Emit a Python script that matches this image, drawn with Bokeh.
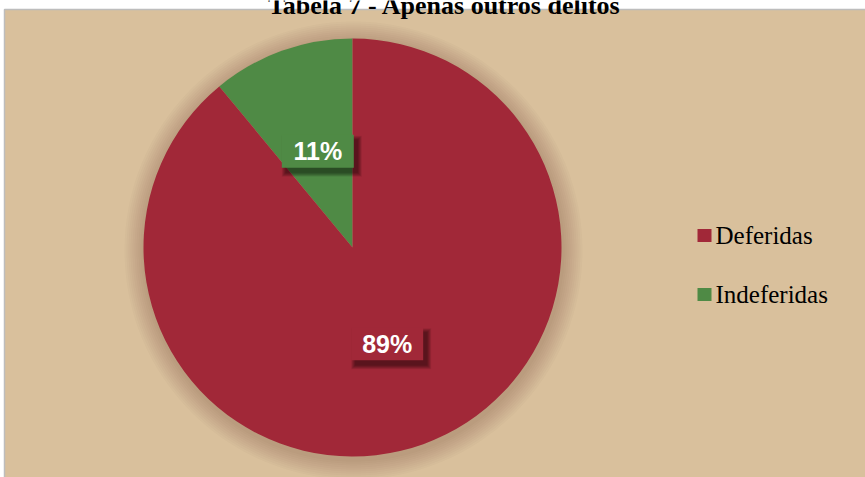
import numpy as np
from bokeh.plotting import figure
from bokeh.models import Range1d
from bokeh.core.properties import value
from bokeh.embed import file_html
from bokeh.resources import INLINE

# ---- data ----
title = "Tabela 7 - Apenas outros delitos"
categories = ["Deferidas", "Indeferidas"]
shares = [89, 11]
labels = ["89%", "11%"]
colors = ["#A12838", "#4F8A45"]

W, H = 865, 477
p = figure(width=W, height=H, x_range=Range1d(0, W), y_range=Range1d(0, H),
           output_backend="svg", toolbar_location=None, min_border=0,
           background_fill_color="white", border_fill_color="white")
p.axis.visible = False
p.grid.visible = False
p.outline_line_color = None

# chart area background
p.quad(left=[4], right=[W + 2], bottom=[-2], top=[H - 9], fill_color="#D9C09C",
       line_color="#BDBDBD", line_width=1.5)

cx, cy, r = 352, H - 247, 209

# soft shadow around the pie
for k in range(20, 0, -2):
    p.circle(x=[cx + 1], y=[cy - 3], radius=r + k, fill_color="#5A3A20",
             fill_alpha=0.025, line_color=None)

# wedges: green from 12 o'clock counter-clockwise, red the rest
vals = np.array(shares, dtype=float)
fr = vals / vals.sum()
order = [1, 0]
start = np.pi / 2
starts, ends, cols, mids = [], [], [], {}
for i in order:
    e = start + fr[i] * 2 * np.pi
    starts.append(start)
    ends.append(e)
    cols.append(colors[i])
    mids[i] = (start + e) / 2
    start = e
p.wedge(x=cx, y=cy, radius=r, start_angle=starts, end_angle=ends,
        fill_color=cols, line_color=None)

# data labels
bw, bh = 72, 33
for i in range(len(categories)):
    m = mids[i]
    lx = cx + 0.49 * r * np.cos(m)
    ly = cy + 0.49 * r * np.sin(m)
    for k in range(8, -1, -1):
        p.rect(x=[lx + 4], y=[ly - 5], width=bw + k, height=bh + k,
               fill_color="black", fill_alpha=0.06, line_color=None)
    p.rect(x=[lx], y=[ly], width=bw, height=bh, fill_color=colors[i], line_color=None)
    p.text(x=[lx], y=[ly], text=[labels[i]], text_align="center",
           text_baseline="middle", text_color="white", text_font_style="bold",
           text_font=value("Liberation Sans"), text_font_size="25px")

# legend
ly0 = [H - 235, H - 294]
for i, cat in enumerate(categories):
    p.rect(x=[704], y=[ly0[i]], width=14, height=13, fill_color=colors[i], line_color=None)
    p.text(x=[715], y=[ly0[i]], text=[cat], text_align="left", text_baseline="middle",
           text_color="black", text_font=value("Liberation Serif"), text_font_size="25px")

# title (cut off at top, as in the reference)
p.text(x=[444], y=[H - 5], text=[title], text_align="center", text_baseline="alphabetic",
       text_color="black", text_font=value("Liberation Serif"), text_font_style="bold",
       text_font_size="26px")

open("out.html", "w").write(file_html(p, INLINE))
